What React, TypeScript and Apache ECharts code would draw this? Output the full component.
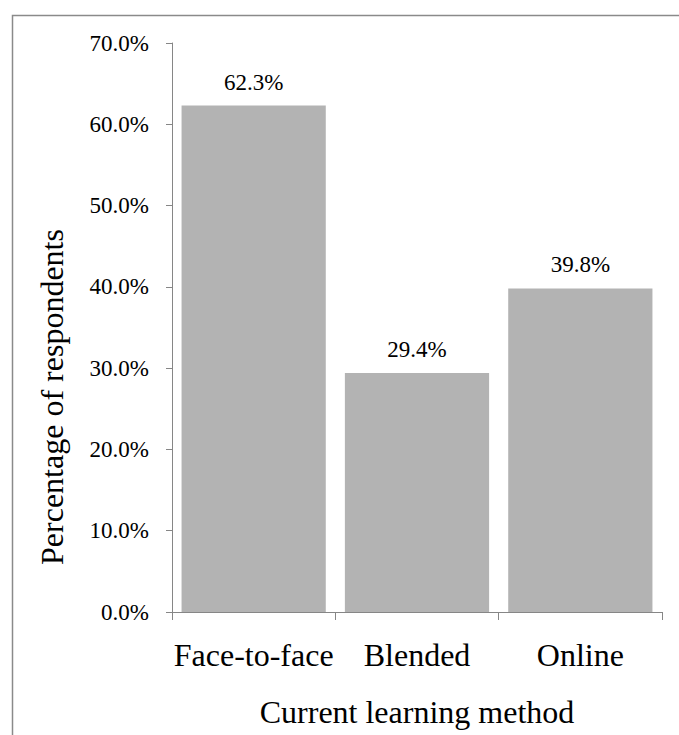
import React, { useEffect, useRef } from "react";
import * as echarts from "echarts";

const categories = ["Face-to-face", "Blended", "Online"];
const values = [62.3, 29.4, 39.8];
const yTicks = { min: 0, max: 70, interval: 10 };
const xTitle = "Current learning method";
const yTitle = "Percentage of respondents";

const FONT = '"Liberation Serif", "Times New Roman", serif';
const AXIS = "#868686";

export default function App() {
  const ref = useRef<HTMLDivElement>(null);
  useEffect(() => {
    if (!ref.current) return;
    const chart = echarts.init(ref.current, undefined, { renderer: "svg" });
    chart.setOption({
      animation: false,
      backgroundColor: "#ffffff",
      textStyle: { fontFamily: FONT },
      grid: { left: 172, right: 17, top: 43, bottom: 123 },
      xAxis: {
        type: "category",
        data: categories,
        boundaryGap: true,
        axisLine: { lineStyle: { color: AXIS, width: 1 } },
        axisTick: { show: true, length: 8, alignWithLabel: false, lineStyle: { color: AXIS } },
        axisLabel: { color: "#000", fontSize: 32, fontFamily: FONT, margin: 27, interval: 0 },
        name: xTitle,
        nameLocation: "middle",
        nameGap: 84,
        nameTextStyle: { color: "#000", fontSize: 32, fontFamily: FONT },
      },
      yAxis: {
        type: "value",
        min: yTicks.min,
        max: yTicks.max,
        interval: yTicks.interval,
        splitLine: { show: false },
        axisLine: { show: true, lineStyle: { color: AXIS, width: 1 } },
        axisTick: { show: true, inside: false, length: 6, lineStyle: { color: AXIS } },
        axisLabel: {
          color: "#000",
          fontSize: 23,
          fontFamily: FONT,
          margin: 23,
          formatter: (v: number) => v.toFixed(1) + "%",
        },
      },
      graphic: [
        {
          type: "rect",
          shape: { x: 12.5, y: 15.5, width: 800, height: 900 },
          style: { fill: "none", stroke: "#8a8a8a", lineWidth: 1.5 },
          silent: true,
          z: 100,
        },
        {
          type: "text",
          x: 52,
          y: 397,
          rotation: Math.PI / 2,
          style: {
            text: yTitle,
            fontSize: 32,
            fontFamily: FONT,
            fill: "#000",
            align: "center",
            verticalAlign: "middle",
          },
        },
      ],
      series: [
        {
          type: "bar",
          data: values,
          barCategoryGap: "11.7%",
          itemStyle: { color: "#b3b3b3" },
          label: {
            show: true,
            position: "top",
            distance: 12,
            color: "#000",
            fontSize: 23,
            fontFamily: FONT,
            formatter: (p: any) => p.value.toFixed(1) + "%",
          },
        },
      ],
    });
    return () => chart.dispose();
  }, []);
  return (
    <div
      style={{ position: "fixed", left: 0, top: 0, width: 679, height: 735, background: "#fff" }}
    >
      <div ref={ref} style={{ width: 679, height: 735 }} />
    </div>
  );
}
